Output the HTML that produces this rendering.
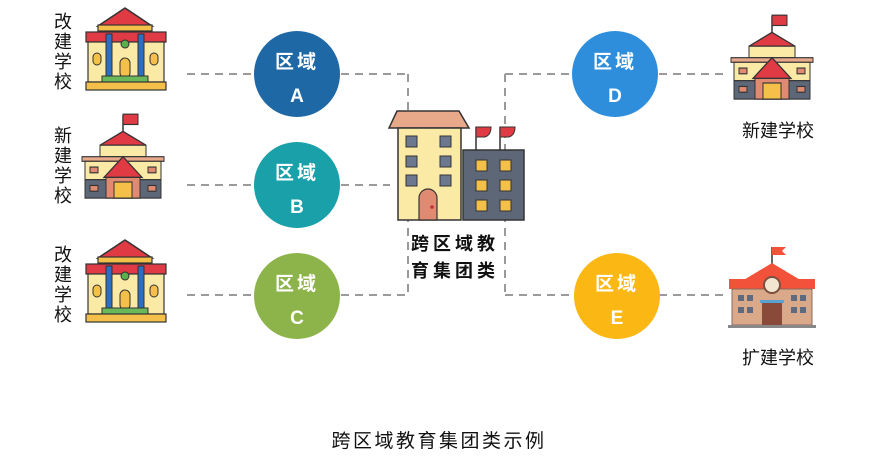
<!DOCTYPE html>
<html><head><meta charset="utf-8"><style>
html,body{margin:0;padding:0;background:#fff;}
svg{display:block;}
text{font-family:"Liberation Sans","Noto Sans CJK SC",sans-serif;}
</style></head><body>
<svg width="872" height="467" viewBox="0 0 872 467" xmlns="http://www.w3.org/2000/svg">
<defs>
<g id="oldschool">
  <polygon points="41,0 14,18 68,18" fill="#e03a44" stroke="#333" stroke-width="1.5"/>
  <rect x="14" y="17" width="54" height="6" fill="#f4c04a" stroke="#333" stroke-width="1.2"/>
  <rect x="2" y="24" width="80" height="10" fill="#e03a44" stroke="#333" stroke-width="1.2"/>
  <rect x="4" y="34" width="76" height="40" fill="#fbeaa6" stroke="#333" stroke-width="1.2"/>
  <rect x="22" y="26" width="6" height="44" fill="#2a6fc4" stroke="#333" stroke-width="1"/>
  <rect x="54" y="26" width="6" height="44" fill="#2a6fc4" stroke="#333" stroke-width="1"/>
  <circle cx="41" cy="36" r="4" fill="#5ab04a" stroke="#333" stroke-width="1"/>
  <rect x="36" y="50" width="10" height="20" rx="5" fill="#f4c04a" stroke="#333" stroke-width="1"/>
  <rect x="9" y="45" width="8" height="12" rx="4" fill="#f4c04a" stroke="#333" stroke-width="1"/>
  <rect x="66" y="45" width="8" height="12" rx="4" fill="#f4c04a" stroke="#333" stroke-width="1"/>
  <rect x="18" y="68" width="46" height="6" fill="#6ab85a" stroke="#333" stroke-width="1"/>
  <rect x="2" y="74" width="80" height="8" fill="#f4c04a" stroke="#333" stroke-width="1.2"/>
</g>
<g id="newschool">
  <line x1="41" y1="2" x2="41" y2="16" stroke="#333" stroke-width="1.5"/>
  <rect x="41" y="1" width="15" height="9" fill="#e03a44" stroke="#333" stroke-width="1"/>
  <polygon points="41,16 18,28 64,28" fill="#e03a44" stroke="#333" stroke-width="1.2"/>
  <rect x="18" y="28" width="46" height="10" fill="#fbeaa6" stroke="#333" stroke-width="1"/>
  <rect x="0" y="38" width="82" height="4" fill="#e8a88a" stroke="#333" stroke-width="1"/>
  <rect x="3" y="42" width="76" height="16" fill="#fbeaa6" stroke="#333" stroke-width="1"/>
  <rect x="3" y="58" width="76" height="16" fill="#5e6778" stroke="#333" stroke-width="1"/>
  <polygon points="41,38 22,56 60,56" fill="#e03a44" stroke="#333" stroke-width="1.2"/>
  <rect x="24" y="56" width="34" height="18" fill="#e08a72" stroke="#333" stroke-width="1"/>
  <rect x="32" y="60" width="18" height="14" fill="#f4c04a" stroke="#333" stroke-width="1"/>
  <rect x="8" y="47" width="8" height="5" fill="#e08a72" stroke="#333" stroke-width="1"/>
  <rect x="66" y="47" width="8" height="5" fill="#e08a72" stroke="#333" stroke-width="1"/>
  <rect x="8" y="63" width="8" height="5" fill="#e08a72" stroke="#333" stroke-width="1"/>
  <rect x="66" y="63" width="8" height="5" fill="#e08a72" stroke="#333" stroke-width="1"/>
</g>
</defs>

<g stroke="#9a9a9a" stroke-width="2" stroke-dasharray="8,6" fill="none">
  <line x1="187" y1="74" x2="408" y2="74"/>
  <line x1="187" y1="185" x2="390" y2="185"/>
  <line x1="187" y1="295" x2="408" y2="295"/>
  <line x1="408" y1="74" x2="408" y2="295"/>
  <line x1="505" y1="74" x2="725" y2="74"/>
  <line x1="505" y1="295" x2="725" y2="295"/>
  <line x1="505" y1="74" x2="505" y2="295"/>
</g>

<use href="#oldschool" x="84" y="8"/>
<g transform="translate(82,113) scale(1,1.15)"><use href="#newschool"/></g>
<use href="#oldschool" x="84" y="240"/>
<g transform="translate(731,14) scale(1,1.15)"><use href="#newschool"/></g>

<!-- expansion school -->
<g transform="translate(728,245)">
  <line x1="44" y1="2" x2="44" y2="20" stroke="#333" stroke-width="1.5"/>
  <polygon points="44,2 58,2 54,6 58,10 44,10" fill="#f2523a"/>
  <polygon points="44,18 14,36 74,36" fill="#f2523a"/>
  <rect x="1" y="34" width="86" height="10" fill="#f2523a"/>
  <rect x="4" y="44" width="80" height="36" fill="#d9a98a" stroke="#8a6a5a" stroke-width="1"/>
  <circle cx="44" cy="40" r="8" fill="#f3e6d0" stroke="#7a5040" stroke-width="2"/>
  <rect x="34" y="58" width="20" height="22" fill="#8a4a3a"/>
  <rect x="32" y="55" width="24" height="3" fill="#5aa0d0"/>
  <g fill="#5e6a80">
    <rect x="10" y="50" width="6" height="6"/><rect x="19" y="50" width="6" height="6"/>
    <rect x="10" y="62" width="6" height="6"/><rect x="19" y="62" width="6" height="6"/>
    <rect x="63" y="50" width="6" height="6"/><rect x="72" y="50" width="6" height="6"/>
    <rect x="63" y="62" width="6" height="6"/><rect x="72" y="62" width="6" height="6"/>
  </g>
  <rect x="0" y="80" width="88" height="3" fill="#888"/>
</g>

<!-- center building -->
<g transform="translate(389,110)">
  <polygon points="8,1 70,1 80,18 0,18" fill="#e8a88a" stroke="#333" stroke-width="1.5"/>
  <rect x="9" y="18" width="63" height="92" fill="#fbeaa6" stroke="#333" stroke-width="1.5"/>
  <g fill="#6c7890" stroke="#333" stroke-width="1">
    <rect x="17" y="26" width="11" height="11"/><rect x="51" y="26" width="11" height="11"/>
    <rect x="17" y="46" width="11" height="11"/><rect x="51" y="46" width="11" height="11"/>
    <rect x="17" y="65" width="11" height="11"/><rect x="51" y="65" width="11" height="11"/>
  </g>
  <path d="M30,110 V88 a9,9 0 0 1 18,0 V110 Z" fill="#e08a72" stroke="#333" stroke-width="1.2"/>
  <circle cx="43" cy="97" r="1.8" fill="#c03040"/>
  <rect x="74" y="40" width="61" height="70" fill="#5e6778" stroke="#333" stroke-width="1.5"/>
  <line x1="87" y1="40" x2="87" y2="17" stroke="#333" stroke-width="1.5"/>
  <line x1="111" y1="40" x2="111" y2="17" stroke="#333" stroke-width="1.5"/>
  <path d="M87,17 h15 q0,8 -6,10 h-9z" fill="#e03a44" stroke="#333" stroke-width="1"/>
  <path d="M111,17 h15 q0,8 -6,10 h-9z" fill="#e03a44" stroke="#333" stroke-width="1"/>
  <g fill="#f4c04a" stroke="#333" stroke-width="1">
    <rect x="87" y="50" width="11" height="11"/><rect x="111" y="50" width="11" height="11"/>
    <rect x="87" y="70" width="11" height="11"/><rect x="111" y="70" width="11" height="11"/>
    <rect x="87" y="90" width="11" height="11"/><rect x="111" y="90" width="11" height="11"/>
  </g>
</g>
<rect x="410" y="228" width="92" height="54" fill="#fff"/>
<text x="455" y="250" font-size="18" font-weight="bold" text-anchor="middle" fill="#111" letter-spacing="4">跨区域教</text>
<text x="455" y="277" font-size="18" font-weight="bold" text-anchor="middle" fill="#111" letter-spacing="4">育集团类</text>

<!-- circles -->
<g font-weight="bold" fill="#fff" text-anchor="middle">
  <circle cx="297" cy="74" r="43" fill="#1f68a6"/>
  <circle cx="297" cy="185" r="43" fill="#19a0a8"/>
  <circle cx="297" cy="296" r="43" fill="#8db44a"/>
  <circle cx="615" cy="74" r="43" fill="#2e8edc"/>
  <circle cx="617" cy="296" r="43" fill="#fbb814"/>
  <g fill="#fff" font-size="19">
    <text x="297" y="68" letter-spacing="3">区域</text><text x="297" y="102">A</text>
    <text x="297" y="179" letter-spacing="3">区域</text><text x="297" y="213">B</text>
    <text x="297" y="290" letter-spacing="3">区域</text><text x="297" y="324">C</text>
    <text x="615" y="68" letter-spacing="3">区域</text><text x="615" y="102">D</text>
    <text x="617" y="290" letter-spacing="3">区域</text><text x="617" y="324">E</text>
  </g>
</g>

<!-- vertical labels -->
<g font-size="18" fill="#111" text-anchor="middle">
  <text x="63" y="28">改</text><text x="63" y="48">建</text><text x="63" y="68">学</text><text x="63" y="88">校</text>
  <text x="63" y="142">新</text><text x="63" y="162">建</text><text x="63" y="182">学</text><text x="63" y="202">校</text>
  <text x="63" y="261">改</text><text x="63" y="281">建</text><text x="63" y="301">学</text><text x="63" y="321">校</text>
  <text x="778" y="137">新建学校</text>
  <text x="778" y="364">扩建学校</text>
</g>
<text x="439" y="447" font-size="19" fill="#111" text-anchor="middle" letter-spacing="2.5">跨区域教育集团类示例</text>
</svg>
</body></html>
